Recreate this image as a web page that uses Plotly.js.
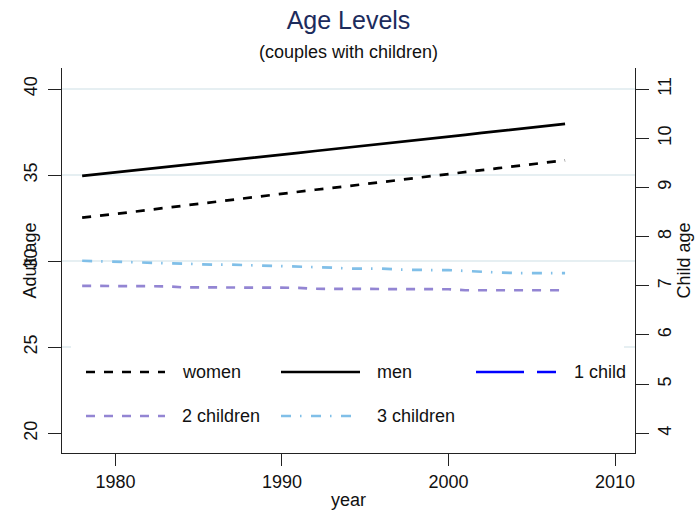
<!DOCTYPE html>
<html>
<head>
<meta charset="utf-8">
<script src="https://cdn.plot.ly/plotly-3.0.1.min.js"></script>
<style>html,body{margin:0;padding:0;background:#fff;}#chart{width:696px;height:516px;}</style>
</head>
<body>
<div id="chart"></div>
<script>
// ---- data ----
const years = [1978,1979,1980,1981,1982,1983,1984,1985,1986,1987,1988,1989,1990,1991,1992,1993,1994,1995,1996,1997,1998,1999,2000,2001,2002,2003,2004,2005,2006,2007];
const women = [32.53,32.63,32.75,32.86,32.98,33.10,33.21,33.33,33.45,33.56,33.68,33.80,33.91,34.02,34.15,34.25,34.37,34.48,34.60,34.71,34.83,34.94,35.06,35.17,35.29,35.40,35.52,35.63,35.75,35.86];
const men = [34.95,35.05,35.15,35.26,35.37,35.47,35.57,35.67,35.78,35.88,35.98,36.08,36.18,36.29,36.40,36.50,36.61,36.71,36.82,36.92,37.03,37.13,37.24,37.34,37.45,37.55,37.66,37.76,37.87,37.97];
const child1 = [null,null,null,null,null,null,null,null,null,null,null,null,null,null,null,null,null,null,null,null,null,null,null,null,null,null,null,null,null,null];
const child2 = [7.00,7.00,7.00,7.00,7.00,6.99,6.97,6.97,6.97,6.97,6.97,6.97,6.97,6.96,6.94,6.94,6.94,6.94,6.94,6.94,6.94,6.94,6.93,6.91,6.91,6.91,6.91,6.91,6.91,6.91];
const child3 = [7.51,7.50,7.49,7.48,7.46,7.46,7.45,7.43,7.43,7.43,7.42,7.41,7.41,7.40,7.38,7.37,7.35,7.35,7.35,7.33,7.32,7.32,7.32,7.30,7.29,7.27,7.26,7.26,7.26,7.26];
const seriesNames = ['women','men','1 child','2 children','3 children'];
const xTicks = [1980,1990,2000,2010];
const adultTicks = [20,25,30,35,40];
const adultGrid = [25,30,35,40];
const childTicks = [4,5,6,7,8,9,10,11];

// ---- styles ----
const FONT = 'Liberation Sans, Arial, sans-serif';
const styles = {
  'women':      {color:'#000000', dash:'9px,9px', width:2.7},
  'men':        {color:'#000000', dash:'solid', width:2.7},
  '1 child':    {color:'#0000ff', dash:'48px,13px', width:2.7},
  '2 children': {color:'#9385d3', dash:'9px,9px', width:2.7},
  '3 children': {color:'#80bfe8', dash:'10px,9px,1.5px,9.5px', width:2.7}
};
const seriesData = {'women':women,'men':men,'1 child':child1,'2 children':child2,'3 children':child3};
const seriesAxis = {'women':'y','men':'y','1 child':'y2','2 children':'y2','3 children':'y2'};

const traces = seriesNames.map(n => ({
  type:'scatter', mode:'lines', name:n, x:years, y:seriesData[n], yaxis:seriesAxis[n],
  line:{color:styles[n].color, dash:styles[n].dash, width:styles[n].width},
  showlegend:false, hoverinfo:'skip'
}));
// empty helper trace so the grid-only axis (yaxis3) is drawn
traces.push({type:'scatter', mode:'lines', x:[], y:[], yaxis:'y3', showlegend:false, hoverinfo:'skip'});

// plot box in page pixels
const L = 62, R = 635, T = 68, B = 453, W = 696, H = 516;
const px = v => (v - L) / (R - L);
const py = v => (B - v) / (B - T);

// manual legend (Stata style, inside plot)
const legendItems = [
  {name:'women', row:0, col:0},
  {name:'men', row:0, col:1},
  {name:'1 child', row:0, col:2},
  {name:'2 children', row:1, col:0},
  {name:'3 children', row:1, col:1}
];
const colSample = [[86,165],[281,360],[476,556]];
const colText = [180,375,572];
const rowY = [372,416];

const shapes = [{
  type:'rect', xref:'paper', yref:'paper', x0:px(71), x1:px(624), y0:py(449), y1:py(345),
  fillcolor:'#ffffff', line:{width:0}, layer:'above'
}];
const annotations = [];
legendItems.forEach(it => {
  const s = styles[it.name];
  shapes.push({type:'line', xref:'paper', yref:'paper',
    x0:px(colSample[it.col][0]), x1:px(colSample[it.col][1]), y0:py(rowY[it.row]), y1:py(rowY[it.row]),
    line:{color:s.color, width:s.width, dash:s.dash}, layer:'above'});
  annotations.push({xref:'paper', yref:'paper', x:px(colText[it.col]), y:py(rowY[it.row]),
    xanchor:'left', yanchor:'middle', text:it.name, showarrow:false,
    font:{family:FONT, size:18, color:'#111111'}});
});
annotations.push({xref:'paper', yref:'paper', x:px(29), y:0.5, xanchor:'center', yanchor:'middle',
  text:'Adult age', textangle:-90, showarrow:false, font:{family:FONT, size:18, color:'#111111'}});
annotations.push({xref:'paper', yref:'paper', x:px(683), y:0.5, xanchor:'center', yanchor:'middle',
  text:'Child age', textangle:-90, showarrow:false, font:{family:FONT, size:18, color:'#111111'}});
annotations.push({xref:'paper', yref:'paper', x:0.5, y:py(52), xanchor:'center', yanchor:'middle',
  text:'(couples with children)', showarrow:false, font:{family:FONT, size:18, color:'#111111'}});

const axisCommon = {
  showline:true, linecolor:'#222222', linewidth:1, ticks:'outside', tickcolor:'#222222',
  tickwidth:1, zeroline:false, showgrid:false, tickfont:{family:FONT, size:18, color:'#111111'},
  fixedrange:true
};

const layout = {
  width:W, height:H,
  margin:{l:L, r:W-R, t:T, b:H-B, pad:0},
  paper_bgcolor:'#ffffff', plot_bgcolor:'#ffffff',
  font:{family:FONT, size:18, color:'#111111'},
  title:{text:'Age Levels', font:{family:FONT, size:25, color:'#1c2b5c'},
    x:0.5, xref:'paper', xanchor:'center', y:1-20/H, yref:'container', yanchor:'middle'},
  showlegend:false,
  xaxis:Object.assign({}, axisCommon, {range:[1976.79, 2011.2], tickvals:xTicks, ticklen:12,
    title:{text:'year', font:{family:FONT, size:18, color:'#111111'}, standoff:2}}),
  yaxis:Object.assign({}, axisCommon, {range:[18.86, 41.22], tickvals:adultTicks, tickangle:-90,
    ticklen:13, ticklabelstandoff:4}),
  yaxis2:Object.assign({}, axisCommon, {range:[3.6, 11.43], tickvals:childTicks, tickangle:-90,
    ticklen:13, overlaying:'y', side:'right', anchor:'x'}),
  yaxis3:{range:[18.86, 41.22], tickvals:adultGrid, overlaying:'y', anchor:'x', showgrid:true,
    gridcolor:'#e6eff2', gridwidth:2, showticklabels:false, ticks:'', showline:false, zeroline:false,
    fixedrange:true},
  shapes:shapes,
  annotations:annotations
};

Plotly.newPlot('chart', traces, layout, {displayModeBar:false, staticPlot:true});
</script>
</body>
</html>
